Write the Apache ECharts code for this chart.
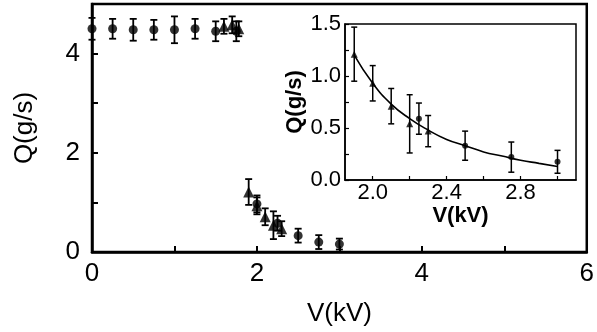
<!DOCTYPE html>
<html>
<head>
<meta charset="utf-8">
<script src="https://cdn.jsdelivr.net/npm/echarts@6/dist/echarts.min.js"></script>
<style>
  html, body { margin: 0; padding: 0; background: #fff; }
  #chart { width: 597px; height: 332px; }
</style>
</head>
<body>
<div id="chart"></div>
<script>
// [V (kV), Q (g/s), error]
const mainCircles = [
  [0, 4.5, 0.22], [0.25, 4.5, 0.2], [0.5, 4.48, 0.22], [0.75, 4.48, 0.2],
  [1.0, 4.48, 0.27], [1.25, 4.5, 0.2], [1.5, 4.45, 0.2], [1.75, 4.45, 0.2],
  [2.0, 0.97, 0.17], [2.25, 0.58, 0.15], [2.5, 0.33, 0.14], [2.75, 0.2, 0.14], [3.0, 0.16, 0.11]
]
const mainTriangles = [
  [1.6, 4.55, 0.15], [1.7, 4.58, 0.17], [1.78, 4.5, 0.15],
  [1.9, 1.21, 0.26], [2.0, 0.93, 0.17], [2.1, 0.71, 0.17], [2.2, 0.54, 0.28], [2.3, 0.47, 0.15]
]
const insetCircles = [[2.25, 0.59, 0.15], [2.5, 0.33, 0.14], [2.75, 0.22, 0.145], [3.0, 0.175, 0.11]]
const insetTriangles = [[1.9, 1.21, 0.26], [2.0, 0.93, 0.17], [2.1, 0.71, 0.17], [2.2, 0.54, 0.28], [2.3, 0.47, 0.15]]
// fitted curve
const fitV = [1.9, 2.0, 2.1, 2.2, 2.3, 2.4, 2.5, 2.6, 2.7, 2.8, 2.9, 3.0]
const fitQ = [1.2, 0.93, 0.73, 0.59, 0.48, 0.39, 0.33, 0.27, 0.23, 0.19, 0.16, 0.13]

const insetXTicks = [2.0, 2.2, 2.4, 2.6, 2.8, 3.0]
const insetXLabels = [2.0, 2.4, 2.8]

const font = "Liberation Sans"
const chart = echarts.init(document.getElementById("chart"))

function errorBars(data, xi, yi, cap, width) {
  return {
    type: "custom",
    xAxisIndex: xi,
    yAxisIndex: yi,
    data: data,
    z: 10,
    silent: true,
    renderItem: (params, api) => {
      const x = api.value(0), y = api.value(1), e = api.value(2)
      const top = api.coord([x, y + e])
      const bot = api.coord([x, y - e])
      const style = { stroke: "#000", lineWidth: width }
      return {
        type: "group",
        children: [
          { type: "line", shape: { x1: top[0], y1: top[1], x2: bot[0], y2: bot[1] }, style },
          { type: "line", shape: { x1: top[0] - cap, y1: top[1], x2: top[0] + cap, y2: top[1] }, style },
          { type: "line", shape: { x1: bot[0] - cap, y1: bot[1], x2: bot[0] + cap, y2: bot[1] }, style },
        ],
      }
    },
  }
}

function markers(data, symbol, size, xi, yi) {
  return {
    type: "scatter",
    xAxisIndex: xi,
    yAxisIndex: yi,
    symbol: symbol,
    symbolSize: size,
    data: data.map((d) => [d[0], d[1]]),
    itemStyle: { color: "#000" },
    z: 11,
    silent: true,
  }
}

const option = {
  animation: false,
  grid: [
    { left: 92, top: 4, width: 498, height: 250, show: true, borderColor: "#000", borderWidth: 2.5 },
    { left: 345, top: 24, width: 231, height: 156, show: true, borderColor: "#000", borderWidth: 1.5 },
  ],
  xAxis: [
    {
      gridIndex: 0, type: "value", min: 0, max: 6, interval: 1,
      name: "V(kV)", nameLocation: "middle", nameGap: 49,
      nameTextStyle: { fontFamily: font, fontSize: 26, color: "#000" },
      axisLine: { show: true, onZero: false, lineStyle: { color: "#000", width: 2.5 } },
      axisTick: { show: true, inside: true, length: 6, lineStyle: { color: "#000", width: 2 } },
      axisLabel: {
        margin: 9, fontFamily: font, fontSize: 26, color: "#000",
        formatter: (v) => (v % 2 === 0 ? String(v) : ""),
      },
      splitLine: { show: false },
    },
    {
      gridIndex: 1, type: "value", min: 1.85, max: 3.1,
      name: "V(kV)", nameLocation: "middle", nameGap: 22,
      nameTextStyle: { fontFamily: font, fontSize: 22, fontWeight: "bold", color: "#000" },
      axisLine: { show: true, onZero: false, lineStyle: { color: "#000", width: 1.5 } },
      axisTick: { show: true, inside: true, length: 4, customValues: insetXTicks, lineStyle: { color: "#000", width: 1.2 } },
      axisLabel: {
        margin: 2, fontFamily: font, fontSize: 22, color: "#000",
        customValues: insetXLabels, formatter: (v) => v.toFixed(1),
      },
      splitLine: { show: false },
    },
  ],
  yAxis: [
    {
      gridIndex: 0, type: "value", min: 0, max: 5, interval: 1,
      name: "Q(g/s)", nameLocation: "middle", nameGap: 54,
      nameTextStyle: { fontFamily: font, fontSize: 26, color: "#000" },
      axisLine: { show: true, onZero: false, lineStyle: { color: "#000", width: 2.5 } },
      axisTick: { show: true, inside: true, length: 6, lineStyle: { color: "#000", width: 2 } },
      axisLabel: {
        margin: 12, fontFamily: font, fontSize: 26, color: "#000",
        formatter: (v) => (v % 2 === 0 && v < 5 ? String(v) : ""),
      },
      splitLine: { show: false },
    },
    {
      gridIndex: 1, type: "value", min: 0, max: 1.5, interval: 0.25,
      name: "Q(g/s)", nameLocation: "middle", nameGap: 39,
      nameTextStyle: { fontFamily: font, fontSize: 22, fontWeight: "bold", color: "#000" },
      axisLine: { show: true, onZero: false, lineStyle: { color: "#000", width: 1.5 } },
      axisTick: { show: true, inside: true, length: 4, lineStyle: { color: "#000", width: 1.2 } },
      axisLabel: {
        margin: 4, fontFamily: font, fontSize: 22, color: "#000",
        formatter: (v) => (Math.abs(v * 2 - Math.round(v * 2)) < 1e-6 ? v.toFixed(1) : ""),
      },
      splitLine: { show: false },
    },
  ],
  series: [
    errorBars(mainCircles, 0, 0, 3.5, 1.8),
    errorBars(mainTriangles, 0, 0, 3.5, 1.8),
    markers(mainCircles, "circle", 9, 0, 0),
    markers(mainTriangles, "triangle", 11, 0, 0),
    {
      type: "line", xAxisIndex: 1, yAxisIndex: 1,
      data: fitV.map((v, i) => [v, fitQ[i]]),
      smooth: true, showSymbol: false, silent: true,
      lineStyle: { color: "#000", width: 1.6 }, z: 9,
    },
    errorBars(insetCircles, 1, 1, 3, 1.5),
    errorBars(insetTriangles, 1, 1, 3, 1.5),
    markers(insetCircles, "circle", 6, 1, 1),
    markers(insetTriangles, "triangle", 7, 1, 1),
  ],
}

chart.setOption(option)
</script>
</body>
</html>
